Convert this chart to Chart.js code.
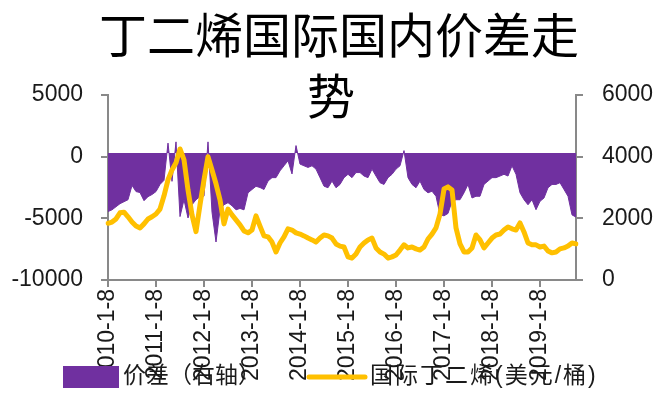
<!DOCTYPE html>
<html>
<head>
<meta charset="utf-8">
<script src="https://cdn.jsdelivr.net/npm/chart.js"></script>
<style>
  html, body { margin: 0; padding: 0; background: #fff; }
</style>
</head>
<body>
<canvas id="chart" width="657" height="396"></canvas>
<script>
// chart text
var titleLines = ['丁二烯国际国内价差走', '势'];
var seriesNames = ['价差（右轴）', '国际丁二烯(美元/桶)'];

// years on the category axis, one point per month from 2010-1 to 2019-10
var years = [2010, 2011, 2012, 2013, 2014, 2015, 2016, 2017, 2018, 2019];

// 价差 (left axis)
var spread = [
  -4450, -4310, -4060, -3810, -3650, -3490, -2330, -2830, -2910, -3570,
  -3240, -3070, -2830, -2250, -1920, 1100, -2000, 1200, -4860, -3490,
  -4970, -3900, -3490, -3240, -3200, 1200, -4500, -6920, -4310, -3900,
  -3730, -3980, -4310, -4200, -4310, -2930, -2660, -2400, -2500, -2660,
  -1980, -1700, -1700, -1150, -740, -330, -1400, 900, -600, -740,
  -870, -740, -1010, -1700, -2390, -2520, -1980, -2520, -2250, -1700,
  -1430, -1700, -1290, -1290, -1570, -1700, -1010, -1570, -2110, -2250,
  -1700, -1430, -1010, -740, 490, -1700, -2250, -2520, -1980, -2660,
  -2930, -2800, -3210, -4700, -4800, -4600, -3620, -3490, -3490, -2930,
  -2250, -3350, -3210, -3210, -2250, -1980, -1700, -1700, -1570, -1430,
  -1570, -740, -1430, -2930, -3490, -3900, -3490, -4300, -3620, -3350,
  -2520, -2250, -2250, -2110, -2660, -3210, -4720, -4900
];

// 国际丁二烯 (right axis)
var butadiene = [
  1840, 1880, 1980, 2180, 2200, 2050, 1880, 1750, 1690, 1820,
  1980, 2050, 2140, 2300, 2730, 3250, 3570, 3800, 4250, 3900,
  2920, 2110, 1570, 2440, 3250, 4000, 3570, 3120, 2600, 1820,
  2300, 2110, 1950, 1790, 1590, 1530, 1620, 2080, 1750, 1430,
  1400, 1230, 910, 1200, 1400, 1660, 1620, 1530, 1490, 1430,
  1360, 1300, 1230, 1360, 1460, 1430, 1360, 1170, 1100, 1070,
  750, 710, 840, 1070, 1200, 1300, 1360, 1040, 910, 840,
  710, 750, 810, 970, 1140, 1040, 1070, 1010, 970, 1070,
  1330, 1490, 1690, 2140, 2950, 3020, 2920, 1690, 1170, 910,
  910, 1040, 1460, 1300, 1040, 1200, 1360, 1460, 1490, 1620,
  1720, 1660, 1620, 1850, 1560, 1200, 1140, 1140, 1070, 1100,
  940, 880, 910, 1010, 1040, 1100, 1200, 1170
];

var leftRange = [-10000, 5000, 5000];   // min, max, step
var rightRange = [0, 6000, 2000];

var purple = '#7030A0';
var yellow = '#FFC000';
var axisGray = '#898989';
var textColor = '#1a1a1a';
var tickFont = { family: "'Liberation Sans', 'Noto Sans CJK SC', sans-serif", size: 23 };

var labels = [];
years.forEach(function (y) {
  for (var m = 1; m <= 12; m++) {
    if (labels.length < spread.length) labels.push(y + '-' + m + '-8');
  }
});

var overlayText = {
  id: 'overlayText',
  afterDraw: function (chart) {
    var ctx = chart.ctx;
    ctx.save();
    ctx.fillStyle = '#000';
    ctx.textBaseline = 'middle';
    ctx.textAlign = 'center';
    ctx.font = "48px 'Noto Sans CJK SC', sans-serif";
    ctx.fillText(titleLines[0], 339, 35);
    ctx.fillText(titleLines[1], 331, 96);

    // legend
    ctx.font = "23px 'Liberation Sans', 'Noto Sans CJK SC', sans-serif";
    ctx.textAlign = 'left';
    ctx.fillStyle = purple;
    ctx.fillRect(63, 366, 56, 22);
    ctx.fillStyle = textColor;
    ctx.fillText(seriesNames[0], 123, 377);
    ctx.strokeStyle = yellow;
    ctx.lineWidth = 5;
    ctx.lineCap = 'round';
    ctx.beginPath();
    ctx.moveTo(309, 377);
    ctx.lineTo(365, 377);
    ctx.stroke();
    ctx.fillStyle = textColor;
    ctx.letterSpacing = '2px';
    ctx.fillText(seriesNames[1], 370, 377);
    ctx.restore();
  }
};

var ctx = document.getElementById('chart').getContext('2d');
var chart = new Chart(ctx, {
  type: 'line',
  data: {
    labels: labels,
    datasets: [{
      label: seriesNames[0],
      data: spread,
      yAxisID: 'y',
      borderColor: purple,
      backgroundColor: purple,
      borderWidth: 1,
      pointRadius: 0,
      fill: { value: 300 },
      order: 2
    }, {
      label: seriesNames[1],
      data: butadiene,
      yAxisID: 'y1',
      borderColor: yellow,
      borderWidth: 5,
      pointRadius: 0,
      fill: false,
      borderJoinStyle: 'round',
      borderCapStyle: 'round',
      order: 1
    }]
  },
  options: {
    responsive: false,
    animation: false,
    layout: { padding: { top: 95, left: 0, right: 0, bottom: 0 } },
    plugins: {
      legend: { display: false },
      title: { display: false },
      tooltip: { enabled: false }
    },
    scales: {
      x: {
        afterFit: function (s) { s.height = 116; },
        grid: { drawOnChartArea: false, color: axisGray, lineWidth: 2, tickLength: 7 },
        border: { color: axisGray, width: 2 },
        ticks: {
          autoSkip: false,
          maxRotation: 90,
          minRotation: 90,
          padding: 2,
          color: textColor,
          font: tickFont,
          callback: function (value) {
            var lab = this.getLabelForValue(value);
            return /-1-8$/.test(lab) ? lab : null;
          }
        }
      },
      y: {
        position: 'left',
        min: leftRange[0],
        max: leftRange[1],
        afterFit: function (s) { s.width = 108; },
        grid: { drawOnChartArea: false, color: axisGray, lineWidth: 2, tickLength: 7 },
        border: { color: axisGray, width: 2 },
        ticks: {
          stepSize: leftRange[2],
          padding: 18,
          color: textColor,
          font: tickFont,
          callback: function (v) { return String(v); }
        }
      },
      y1: {
        position: 'right',
        min: rightRange[0],
        max: rightRange[1],
        afterFit: function (s) { s.width = 81; },
        grid: { drawOnChartArea: false, color: axisGray, lineWidth: 2, tickLength: 7 },
        border: { color: axisGray, width: 2 },
        ticks: {
          stepSize: rightRange[2],
          padding: 19,
          color: textColor,
          font: tickFont,
          callback: function (v) { return String(v); }
        }
      }
    }
  },
  plugins: [overlayText]
});
</script>
</body>
</html>
